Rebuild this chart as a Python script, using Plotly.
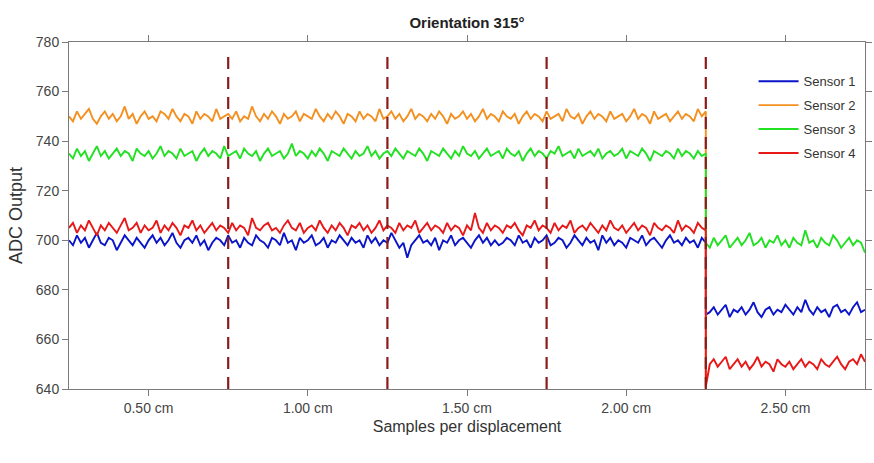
import numpy as np
import plotly.graph_objects as go

# ---------------- data (ADC readings) ----------------
x_start, x_step, x_end = 0.25, 2.25, 2.75   # displacement range (cm); step at 2.25 cm
boundaries = [0.75, 1.25, 1.75, 2.25]        # dashed separators (cm)
x_ticks = [0.5, 1.0, 1.5, 2.0, 2.5]
x_tick_labels = ["0.50 cm", "1.00 cm", "1.50 cm", "2.00 cm", "2.50 cm"]
y_ticks = [640, 660, 680, 700, 720, 740, 760, 780]
names = ["Sensor 1", "Sensor 2", "Sensor 3", "Sensor 4"]
colors = ["#0a14c8", "#f39020", "#22e022", "#e81818"]

s1_main = [
    700, 698, 702, 699, 701, 697, 700, 703, 699, 698,
    701, 700, 696, 699, 702, 700, 698, 701, 699, 697,
    700, 702, 699, 701, 698, 700, 703, 699, 697, 700,
    701, 699, 702, 698, 700, 696, 699, 701, 700, 698,
    702, 699, 700, 697, 701, 699, 698, 702, 700, 699,
    697, 701, 700, 698, 703, 699, 700, 696, 701, 699,
    700, 702, 698, 699, 701, 697, 700, 699, 702, 700,
    698, 701, 699, 700, 697, 702, 699, 701, 698, 700,
    699, 703, 700, 697, 699, 693, 698, 700, 702, 699,
    700, 698, 701, 696, 700, 699, 702, 698, 700, 701,
    699, 697, 700, 702, 699, 701, 698, 700, 698, 699,
    701, 700, 698, 702, 699, 700, 697, 701, 699, 700,
    702, 698, 699, 701, 700, 697, 699, 702, 700, 698,
    701, 699, 700, 696, 702, 699, 701, 698, 700, 699,
    697, 701, 700, 699, 702, 698, 700, 701, 699, 697,
    700, 702, 699, 700, 698, 701, 699, 700, 697, 701,
    699]
s1_tail = [
    670, 671, 673, 670, 672, 674, 669, 672, 671, 673,
    670, 672, 675, 671, 669, 672, 673, 670, 672, 671,
    674, 672, 670, 673, 671, 676, 672, 670, 673, 671,
    672, 669, 673, 674, 671, 672, 670, 673, 675, 671,
    672]

s2_main = [
    750, 748, 752, 749, 751, 753, 749, 747, 750, 752,
    749, 751, 748, 750, 754, 749, 751, 747, 750, 752,
    749, 750, 748, 752, 751, 749, 753, 750, 748, 751,
    750, 747, 752, 749, 751, 750, 748, 753, 749, 750,
    751, 749, 752, 748, 750, 749, 754, 750, 748, 751,
    749, 752, 750, 747, 751, 749, 750, 752, 748, 751,
    750, 749, 753, 750, 748, 751, 749, 752, 750, 747,
    751, 750, 748, 752, 749, 751, 750, 748, 753, 749,
    750, 752, 749, 751, 748, 750, 753, 749, 751, 750,
    748, 751, 749, 752, 750, 747, 751, 749, 750, 752,
    749, 751, 748, 750, 753, 749, 751, 750, 748, 752,
    750, 749, 751, 747, 750, 752, 749, 751, 750, 748,
    752, 749, 750, 751, 748, 753, 750, 749, 751, 747,
    750, 752, 749, 751, 750, 748, 752, 749, 750, 751,
    748, 750, 753, 749, 751, 750, 747, 752, 749, 750,
    751, 748, 750, 752, 749, 751, 750, 748, 753, 750,
    752]
# after the step Sensor 2 falls below the visible range
s2_tail = [
    615, 613, 616, 614, 615, 617, 613, 615, 614, 616,
    615, 613, 616, 614, 615, 614, 616, 613, 615, 614,
    616, 615, 613, 614, 616, 615, 614, 613, 615, 616,
    614, 615, 613, 616, 614, 615, 616, 614, 613, 615,
    614]

s3_main = [
    735, 733, 737, 734, 736, 732, 735, 738, 734, 736,
    733, 735, 737, 734, 736, 735, 732, 737, 735, 734,
    736, 733, 735, 738, 734, 736, 735, 733, 737, 734,
    735, 736, 732, 735, 737, 734, 736, 735, 733, 738,
    734, 735, 736, 733, 737, 735, 734, 736, 732, 735,
    737, 734, 735, 736, 733, 735, 739, 734, 736, 735,
    733, 736, 734, 737, 735, 732, 736, 735, 734, 737,
    735, 733, 736, 734, 735, 738, 734, 736, 733, 735,
    736, 734, 737, 735, 733, 736, 735, 734, 737, 735,
    732, 736, 735, 734, 737, 735, 733, 736, 734, 738,
    735, 734, 736, 733, 735, 737, 734, 735, 736, 733,
    737, 735, 734, 736, 732, 735, 737, 734, 736, 735,
    733, 736, 735, 738, 734, 735, 736, 733, 737, 734,
    735, 736, 734, 737, 733, 735, 736, 734, 735, 737,
    733, 736, 735, 734, 737, 735, 732, 736, 735, 734,
    736, 735, 733, 737, 734, 736, 735, 733, 736, 734,
    735]
s3_tail = [
    699, 697, 701, 698, 700, 702, 697, 699, 701, 698,
    700, 703, 698, 699, 701, 697, 700, 699, 702, 698,
    700, 697, 701, 699, 698, 704, 699, 700, 697, 701,
    699, 698, 702, 700, 697, 699, 701, 698, 700, 699,
    695]

s4_main = [
    705, 707, 703, 706, 704, 708, 705, 702, 706, 704,
    707, 705, 703, 706, 709, 704, 705, 707, 703, 706,
    704, 705, 708, 703, 706, 704, 707, 705, 702, 706,
    705, 708, 704, 706, 703, 705, 707, 704, 706, 705,
    703, 707, 704, 706, 705, 702, 709, 705, 704, 706,
    707, 704, 705, 703, 706, 708, 705, 704, 707, 703,
    705, 706, 704, 708, 705, 703, 706, 704, 707, 705,
    702, 706, 705, 707, 704, 706, 703, 705, 708, 704,
    706, 705, 703, 707, 704, 706, 705, 708, 703, 705,
    707, 704, 706, 705, 703, 707, 704, 706, 705, 702,
    706, 704, 711, 705, 703, 707, 704, 706, 705, 703,
    706, 705, 707, 704, 702, 706, 705, 708, 704, 706,
    705, 703, 707, 704, 706, 705, 708, 703, 705, 706,
    704, 707, 705, 703, 706, 704, 708, 705, 704, 706,
    703, 705, 707, 704, 706, 705, 702, 707, 705, 704,
    706, 705, 703, 708, 704, 706, 705, 703, 707, 705,
    704]
s4_tail = [
    641, 650, 652, 649, 651, 653, 648, 650, 652, 649,
    651, 648, 650, 653, 649, 651, 650, 647, 652, 650,
    649, 651, 648, 650, 652, 649, 651, 650, 648, 652,
    650, 649, 651, 653, 650, 648, 651, 652, 650, 654,
    651]

# ---------------- figure ----------------
x_main = np.linspace(x_start, x_step, len(s1_main))
x_tail = np.linspace(x_step, x_end, len(s1_tail))
x_all = np.concatenate([x_main, x_tail])

series = [s1_main + s1_tail, s2_main + s2_tail, s3_main + s3_tail, s4_main + s4_tail]

fig = go.Figure()
for name, col, ys in zip(names, colors, series):
    fig.add_trace(go.Scatter(
        x=x_all, y=ys, mode="lines", name=name, legendgroup=name,
        line=dict(color=col, width=1.9),
    ))

for b in boundaries:
    fig.add_shape(type="line", xref="x", yref="paper", x0=b, x1=b, y0=0, y1=0.975,
                  line=dict(color="#8a1c1c", width=2.2, dash="12px,8px"), layer="above")

axis_common = dict(showline=True, linecolor="#7a7a7a", linewidth=1, mirror="ticks",
                   ticks="outside", ticklen=6, tickcolor="#7a7a7a", showgrid=False,
                   zeroline=False, tickfont=dict(family="Liberation Sans, Arial", size=14, color="#444"))

fig.update_layout(
    width=874, height=463,
    margin=dict(l=69, r=2, t=42, b=74),
    paper_bgcolor="white", plot_bgcolor="white",
    font=dict(family="Liberation Sans, Arial", color="#333"),
    title=dict(text="<b>Orientation 315°</b>", x=0.5, xref="paper", y=0.95, yanchor="middle",
               font=dict(size=15, color="#222")),
    xaxis=dict(range=[x_start, x_end], tickvals=x_ticks, ticktext=x_tick_labels,
               title=dict(text="Samples per displacement", standoff=6,
                          font=dict(size=16, color="#333")), **axis_common),
    yaxis=dict(range=[640, 780], tickvals=y_ticks,
               title=dict(text="ADC Output", standoff=8, font=dict(size=18, color="#333")),
               **axis_common),
    legend=dict(x=0.86, y=0.93, xanchor="left", yanchor="top", bgcolor="rgba(255,255,255,0)",
                font=dict(size=13, color="#333"), itemwidth=40, traceorder="grouped",
                tracegroupgap=4),
    showlegend=True,
)

fig.write_html("out.html")
